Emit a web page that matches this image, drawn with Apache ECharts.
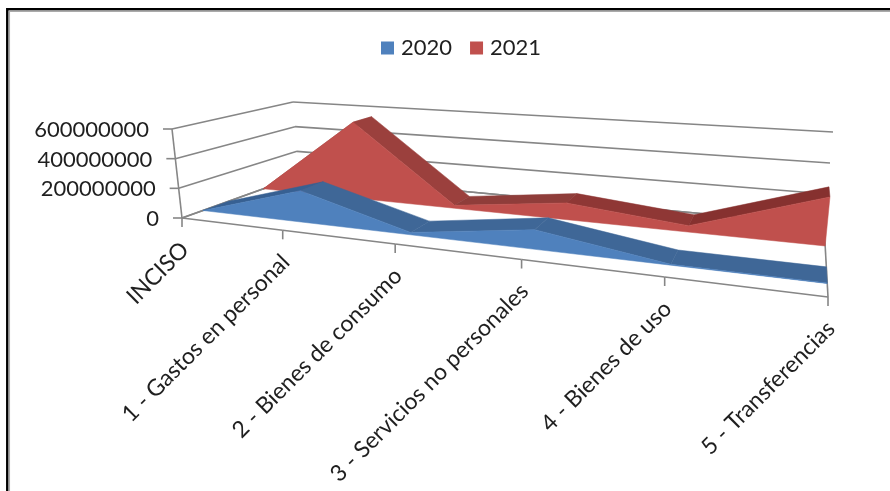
<!DOCTYPE html>
<html>
<head>
<meta charset="utf-8">
<style>html,body{margin:0;padding:0;background:#fff}#chart{width:890px;height:491px}</style>
<script src="https://cdn.jsdelivr.net/npm/echarts@6/dist/echarts.min.js"></script>
</head>
<body>
<div id="chart"></div>
<script>
const categories = ['INCISO', '1 - Gastos en personal', '2 - Bienes de consumo', '3 - Servicios no personales', '4 - Bienes de uso', '5 - Transferencias'];
const values2020 = [0, 207000000, 15000000, 115000000, 5000000, 2000000];
const values2021 = [0, 555000000, 20000000, 110000000, 40000000, 291000000];
const valueTicks = [0, 200000000, 400000000, 600000000];
const tickLabels = ['0', '200000000', '400000000', '600000000'];

const FONT = 'Lato, "Open Sans", sans-serif';
const AXIS_COLOR = '#868686';

// Unit-square to quadrilateral perspective mapping.
function quadMap(q) {
  const [p0, p1, p2, p3] = q; // (0,0) (1,0) (1,1) (0,1)
  const dx1 = p1[0] - p2[0], dx2 = p3[0] - p2[0], sx = p0[0] - p1[0] + p2[0] - p3[0];
  const dy1 = p1[1] - p2[1], dy2 = p3[1] - p2[1], sy = p0[1] - p1[1] + p2[1] - p3[1];
  const den = dx1 * dy2 - dx2 * dy1;
  const g = (sx * dy2 - dx2 * sy) / den;
  const h = (dx1 * sy - sx * dy1) / den;
  const a = p1[0] - p0[0] + g * p1[0], b = p3[0] - p0[0] + h * p3[0];
  const d = p1[1] - p0[1] + g * p1[1], e = p3[1] - p0[1] + h * p3[1];
  return (u, w) => {
    const k = g * u + h * w + 1;
    return [(a * u + b * w + p0[0]) / k, (d * u + e * w + p0[1]) / k];
  };
}

// Floor and ceiling of the 3D box: front-left, front-right, back-right, back-left.
const floorMap = quadMap([[182, 218], [828, 297], [824, 225], [299, 176]]);
const ceilMap = quadMap([[172, 129], [840, 176], [833, 132], [293, 102]]);

// Depth bands occupied by each year inside the box.
const BAND_2020 = [0.15, 0.35];
const BAND_2021 = [0.65, 0.85];

// Grid pixel position (from the hidden axes) to screen position at a given depth.
function project(cs, pt, w) {
  const u = (pt[0] - cs.x) / cs.width;
  const h = (cs.y + cs.height - pt[1]) / cs.height;
  const f = floorMap(u, w), c = ceilMap(u, w);
  return [f[0] + (c[0] - f[0]) * h, f[1] + (c[1] - f[1]) * h];
}

function poly(points, fill, z2) {
  return { type: 'polygon', z2, shape: { points }, style: { fill, stroke: fill, lineWidth: 0.5 } };
}
function line(a, b, width) {
  return {
    type: 'line', z2: 1,
    shape: { x1: a[0], y1: a[1], x2: b[0], y2: b[1] },
    style: { stroke: AXIS_COLOR, lineWidth: width || 1.6 }
  };
}

// Area band of one year: shaded top surface per segment, flat front face on top.
function bandRenderer(values, band, frontColor, topColors) {
  return (params, api) => {
    const cs = params.coordSys;
    const i = api.value(0);
    const children = [];
    if (i < values.length - 1) {
      const a = api.coord([i, values[i]]), b = api.coord([i + 1, values[i + 1]]);
      children.push(poly([project(cs, a, band[0]), project(cs, b, band[0]),
        project(cs, b, band[1]), project(cs, a, band[1])], topColors[i], 5));
    }
    if (i === 0) {
      const top = values.map((v, k) => project(cs, api.coord([k, v]), band[0]));
      const base = values.map((v, k) => project(cs, api.coord([k, 0]), band[0])).reverse();
      children.push(poly(top.concat(base), frontColor, 6));
    }
    return { type: 'group', children };
  };
}

const blueTop = ['#376092', '#3F6797', '#3F6797', '#3F6797', '#3F6797'];
const redTop = ['#94403E', '#9B403D', '#8F3D3A', '#8F3735', '#86312F'];

const option = {
  animation: false,
  backgroundColor: '#fff',
  legend: {
    left: 376, top: 32,
    icon: 'rect',
    itemWidth: 13, itemHeight: 13, itemGap: 18,
    data: ['2020', '2021'],
    textStyle: { fontFamily: FONT, fontSize: 22, color: '#1f1f1f', padding: [0, 0, 0, 2] }
  },
  grid: { left: 180, top: 110, width: 640, height: 180 },
  xAxis: { type: 'category', data: categories, boundaryGap: false, show: false },
  yAxis: { type: 'value', min: 0, max: 600000000, interval: 200000000, show: false },
  graphic: [
    { type: 'polyline', silent: true, shape: { points: [[7.3, 491], [7.3, 9.3], [890, 9.3]] },
      style: { fill: 'none', stroke: '#000', lineWidth: 2.5 } },
    { type: 'polyline', silent: true, shape: { points: [[9.3, 491], [9.3, 11.3], [890, 11.3]] },
      style: { fill: 'none', stroke: '#aaa', lineWidth: 1.5 } }
  ],
  series: [
    {
      // Wall gridlines with their value labels.
      type: 'custom', silent: true, z: 1,
      data: valueTicks.map((v, i) => [0, v, i]),
      renderItem(params, api) {
        const cs = params.coordSys;
        const lastU = api.coord([categories.length - 1, api.value(1)]);
        const firstU = api.coord([0, api.value(1)]);
        const front = project(cs, firstU, 0), back = project(cs, firstU, 1), right = project(cs, lastU, 1);
        const tickEnd = [front[0] - 9, front[1]];
        return {
          type: 'group',
          children: [
            line(front, back), line(back, right), line(tickEnd, front),
            {
              type: 'text', x: tickEnd[0] - 14, y: front[1] + 1,
              style: { text: tickLabels[api.value(2)], font: '22px ' + FONT, fill: '#1f1f1f', align: 'right', verticalAlign: 'middle' }
            }
          ]
        };
      }
    },
    {
      // Category ticks, rotated names and the floor outline.
      type: 'custom', silent: true, z: 1,
      data: categories.map((c, i) => [i]),
      renderItem(params, api) {
        const cs = params.coordSys;
        const i = api.value(0);
        const p = project(cs, api.coord([i, 0]), 0);
        const children = [
          line(p, [p[0], p[1] + 9]),
          {
            type: 'text', x: p[0] + 3, y: p[1] + 28, rotation: Math.PI / 4,
            style: { text: categories[i], font: '23px ' + FONT, fill: '#1f1f1f', align: 'right', verticalAlign: 'middle' }
          }
        ];
        if (i < categories.length - 1) {
          children.push(line(p, project(cs, api.coord([i + 1, 0]), 0)));
        } else {
          children.push(line(p, project(cs, api.coord([i, 0]), 1)));
        }
        if (i === 0) {
          const top = project(cs, api.coord([0, 600000000]), 0);
          children.push(line(p, top), line(p, project(cs, api.coord([0, 0]), 1)),
            line(project(cs, api.coord([0, 0]), 1), project(cs, api.coord([categories.length - 1, 0]), 1)));
        }
        return { type: 'group', children };
      }
    },
    {
      name: '2021', type: 'custom', silent: true, z: 2,
      itemStyle: { color: '#C0504D' },
      data: values2021.map((v, i) => [i, v]),
      renderItem: bandRenderer(values2021, BAND_2021, '#C0504D', redTop)
    },
    {
      name: '2020', type: 'custom', silent: true, z: 3,
      itemStyle: { color: '#4F81BD' },
      data: values2020.map((v, i) => [i, v]),
      renderItem: bandRenderer(values2020, BAND_2020, '#4F81BD', blueTop)
    }
  ]
};

echarts.init(document.getElementById('chart'), null, { renderer: 'canvas' }).setOption(option);
</script>
</body>
</html>
